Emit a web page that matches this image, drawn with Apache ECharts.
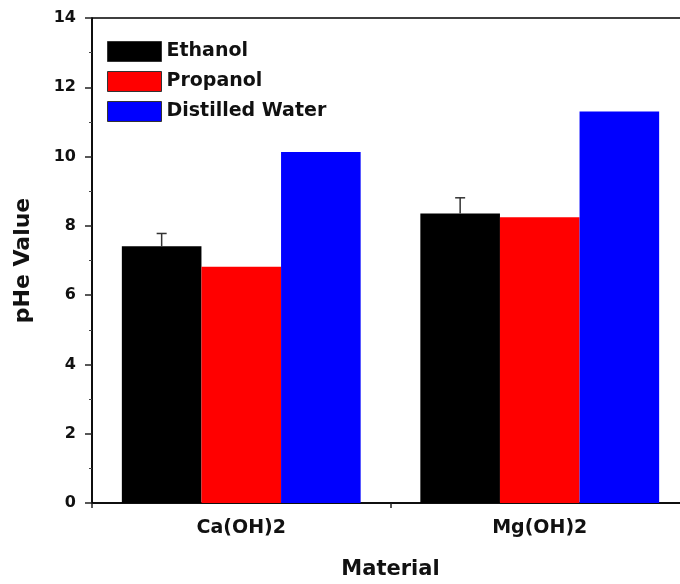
<!DOCTYPE html>
<html>
<head>
<meta charset="utf-8">
<script src="https://cdn.jsdelivr.net/npm/echarts@6/dist/echarts.min.js"></script>
<style>html,body{margin:0;padding:0;background:#fff}#c{width:680px;height:584px}</style>
</head>
<body>
<div id="c"></div>
<script>
var categories = ['Ca(OH)2', 'Mg(OH)2'];
var ethanol = [7.41, 8.36];
var ethanolErr = [0.37, 0.45];
var propanol = [6.82, 8.25];
var water = [10.13, 11.30];
var seriesNames = ['Ethanol', 'Propanol', 'Distilled Water'];
var colors = ['#000000', '#ff0000', '#0000ff'];

var FONT = 'DejaVu Sans';
var chart = echarts.init(document.getElementById('c'), null, {renderer: 'canvas'});

var barCatGap = 0.2;
function errorRender(params, api) {
  var idx = api.value(0);
  var v = api.value(1);
  var e = api.value(2);
  var catW = api.size([1, 0])[0];
  var bw = catW * (1 - barCatGap) / 3;
  var base = api.coord([idx, v]);
  var top = api.coord([idx, v + e]);
  var x = base[0] - bw;
  var half = 5;
  return {
    type: 'group',
    children: [
      {type: 'line', shape: {x1: x, y1: base[1], x2: x, y2: top[1]}, style: {stroke: '#333', lineWidth: 1.5}},
      {type: 'line', shape: {x1: x - half, y1: top[1], x2: x + half, y2: top[1]}, style: {stroke: '#333', lineWidth: 1.5}}
    ]
  };
}

var errData = categories.map(function (c, i) { return [i, ethanol[i], ethanolErr[i]]; });

chart.setOption({
  animation: false,
  backgroundColor: '#fff',
  grid: {left: 92, top: 18, width: 597, height: 485, containLabel: false, outerBoundsMode: 'none', show: true, borderColor: '#000', borderWidth: 1.5, backgroundColor: 'transparent'},
  legend: {
    orient: 'vertical', left: 107, top: 41, padding: 0,
    itemWidth: 54, itemHeight: 20, itemGap: 9,
    icon: 'rect',
    data: seriesNames,
    textStyle: {fontFamily: FONT, fontWeight: 'bold', fontSize: 19, color: '#111'},
    itemStyle: {borderColor: '#333', borderWidth: 1}
  },
  xAxis: [{
    type: 'category', data: categories, boundaryGap: true,
    name: 'Material', nameLocation: 'middle', nameGap: 56,
    nameTextStyle: {fontFamily: FONT, fontWeight: 'bold', fontSize: 21, color: '#111'},
    axisLine: {lineStyle: {color: '#000', width: 1.5}},
    axisTick: {alignWithLabel: true, length: 8, lineStyle: {color: '#222', width: 1.5}},
    axisLabel: {fontFamily: FONT, fontWeight: 'bold', fontSize: 19, color: '#111', margin: 16}
  }, {
    type: 'category', data: categories, boundaryGap: true, position: 'bottom',
    axisLine: {show: false},
    axisTick: {show: true, length: 5, lineStyle: {color: '#222', width: 1.5}},
    axisLabel: {show: false}
  }],
  yAxis: {
    type: 'value', min: 0, max: 14, interval: 2,
    name: 'pHe Value', nameLocation: 'middle', nameGap: 58,
    nameTextStyle: {fontFamily: FONT, fontWeight: 'bold', fontSize: 22, color: '#111'},
    axisLine: {show: true, lineStyle: {color: '#000', width: 1.5}},
    axisTick: {show: true, length: 7, lineStyle: {color: '#222', width: 1.5}},
    minorTick: {show: true, splitNumber: 2, length: 3, lineStyle: {color: '#444', width: 1}},
    splitLine: {show: false},
    axisLabel: {fontFamily: FONT, fontWeight: 'bold', fontSize: 16, color: '#111', margin: 16}
  },
  series: [
    {name: seriesNames[0], type: 'bar', data: ethanol, barGap: '0%', barCategoryGap: '20%', itemStyle: {color: colors[0]}},
    {name: seriesNames[1], type: 'bar', data: propanol, barGap: '0%', barCategoryGap: '20%', itemStyle: {color: colors[1]}},
    {name: seriesNames[2], type: 'bar', data: water, barGap: '0%', barCategoryGap: '20%', itemStyle: {color: colors[2]}},
    {type: 'custom', renderItem: errorRender, data: errData, z: 10, encode: {x: 0, y: 1}}
  ]
});
</script>
</body>
</html>
